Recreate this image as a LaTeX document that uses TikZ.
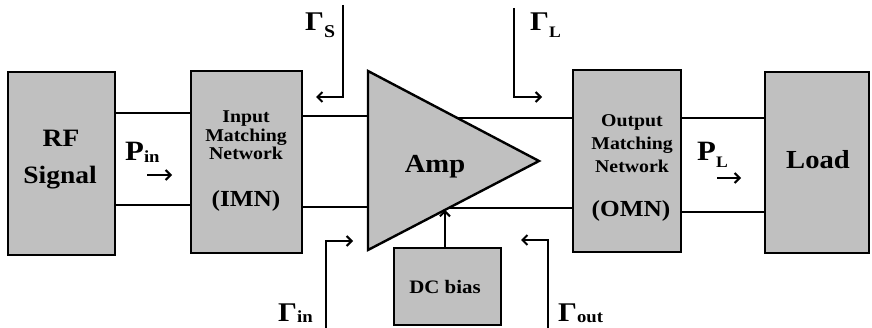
\documentclass[tikz,border=0pt]{standalone}
\usepackage{fontspec}
\setmainfont{Liberation Serif}[FakeStretch=1.1]
\usetikzlibrary{arrows.meta,calc}
\newcommand{\fs}[1]{\fontsize{#1}{#1}\selectfont}
\begin{document}
\begin{tikzpicture}[x=1pt,y=-1pt,
  blk/.style={draw=black,fill=boxgray,line width=2.4pt,inner sep=0pt},
  wire/.style={line width=2.2pt},
  arr/.style={line width=2pt,-{Straight Barb[length=5pt,width=10pt,line width=2pt]}},
  lbl/.style={inner sep=0pt,anchor=base,font=\bfseries}]
\definecolor{boxgray}{HTML}{C0C0C0}
\useasboundingbox (0,0) rectangle (872,328);
% blocks
\node[blk,minimum width=107pt,minimum height=183pt] (rf) at (61.5,163.5) {};
\node[blk,minimum width=111pt,minimum height=182pt] (imn) at (246.5,162) {};
\node[blk,minimum width=108pt,minimum height=182pt] (omn) at (627,161) {};
\node[blk,minimum width=104pt,minimum height=181pt] (load) at (817,162.5) {};
\node[blk,minimum width=107pt,minimum height=77pt] (dc) at (447.5,286.5) {};
% amplifier triangle
\coordinate (ampA) at (368,71);
\coordinate (ampB) at (368,250);
\coordinate (ampC) at (539,161);
\draw[blk] (ampA) -- (ampC) -- (ampB) -- cycle;
% texts
\node[lbl,font=\bfseries\fs{25}] (rf1) at (61,147) {RF};
\node[lbl,font=\bfseries\fs{25}] (rf2) at (60,184) {Signal};
\node[lbl,font=\bfseries\fs{18}] (imn1) at (246,123) {Input};
\node[lbl,font=\bfseries\fs{18}] (imn2) at (246,142) {Matching};
\node[lbl,font=\bfseries\fs{18}] (imn3) at (246,160) {Network};
\node[lbl,font=\bfseries\fs{23}] (imnab) at (246,207) {(IMN)};
\node[lbl,font=\bfseries\fs{18}] (omn1) at (632,127) {Output};
\node[lbl,font=\bfseries\fs{18}] (omn2) at (632,150) {Matching};
\node[lbl,font=\bfseries\fs{18}] (omn3) at (632,173) {Network};
\node[lbl,font=\bfseries\fs{23}] (omnab) at (631,217) {(OMN)};
\node[lbl,font=\bfseries\fs{26}] (amptxt) at (435,173) {Amp};
\node[lbl,font=\bfseries\fs{26}] (loadtxt) at (818,169) {Load};
\node[lbl,font=\bfseries\fs{19}] (dctxt) at (445,294) {DC bias};
% signal lines
\coordinate (ya) at (0,113);
\coordinate (yb) at (0,205);
\draw[wire] (rf.east |- ya) -- (imn.west |- ya);
\draw[wire] (rf.east |- yb) -- (imn.west |- yb);
\coordinate (yc) at (0,116);
\coordinate (yd) at (0,207);
\draw[wire] (imn.east |- yc) -- (ampA |- yc);
\draw[wire] (imn.east |- yd) -- (ampB |- yd);
\coordinate (ampT) at ($(ampA)!0.522!(ampC)$);
\coordinate (ampU) at ($(ampB)!0.472!(ampC)$);
\draw[wire] (ampT) -- (omn.west |- ampT);
\draw[wire] (ampU) -- (omn.west |- ampU);
\coordinate (ye) at (0,118);
\coordinate (yf) at (0,212);
\draw[wire] (omn.east |- ye) -- (load.west |- ye);
\draw[wire] (omn.east |- yf) -- (load.west |- yf);
% dc bias arrow
\coordinate (ampD) at ($(ampB)!0.45!(ampC)$);
\draw[arr] (dc.north -| ampD) -- (ampD);
% power labels
\node[lbl,anchor=base west] (pin) at (125,161) {{\fs{28}P}\raisebox{-2pt}{\fs{17}in}};
\coordinate (pinA) at (147,175);
\coordinate (pinB) at (172,175);
\draw[arr] (pinA) -- (pinB);
\node[lbl,anchor=base west] (pl) at (697,161) {{\fs{28}P}\raisebox{-7pt}{\fs{16}L}};
\coordinate (plA) at (717,178);
\coordinate (plB) at (741,178);
\draw[arr] (plA) -- (plB);
% reflection coefficients
\coordinate (gsT) at (343,5);
\coordinate (gsC) at (343,97);
\coordinate (gsE) at (316,97);
\draw[arr] (gsT) -- (gsC) -- (gsE);
\node[lbl,anchor=base west] (gs) at (305,31) {{\fs{27}Γ}\raisebox{-7pt}{\fs{18}S}};
\coordinate (glT) at (514,8);
\coordinate (glC) at (514,97);
\coordinate (glE) at (542,97);
\draw[arr] (glT) -- (glC) -- (glE);
\node[lbl,anchor=base west] (gl) at (530,31) {{\fs{27}Γ}\raisebox{-7pt}{\fs{16}L}};
\coordinate (giT) at (326,330);
\coordinate (giC) at (326,241);
\coordinate (giE) at (353,241);
\draw[arr] (giT) -- (giC) -- (giE);
\node[lbl,anchor=base west] (gi) at (278,322) {{\fs{27}Γ}\raisebox{-1pt}{\fs{17}in}};
\coordinate (goT) at (548,330);
\coordinate (goC) at (548,240);
\coordinate (goE) at (521,240);
\draw[arr] (goT) -- (goC) -- (goE);
\node[lbl,anchor=base west] (go) at (558,322) {{\fs{27}Γ}\raisebox{-1pt}{\fs{17}out}};
\end{tikzpicture}
\end{document}
